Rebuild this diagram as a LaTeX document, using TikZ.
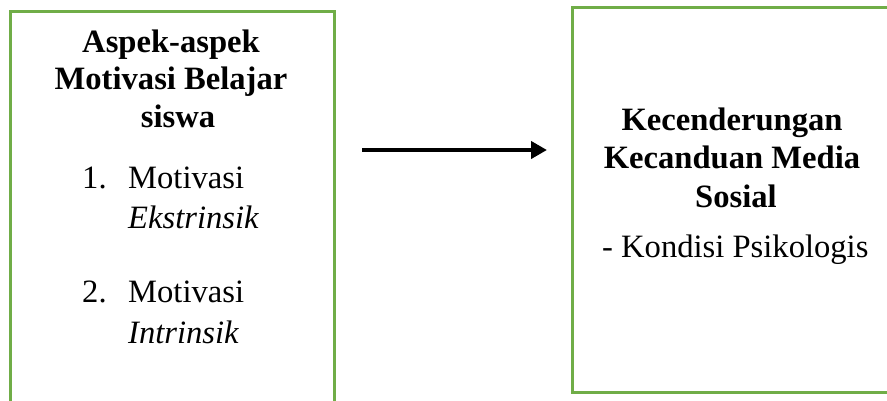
\documentclass[tikz,border=0pt]{standalone}
\usepackage{fontspec}
\setmainfont{Liberation Serif}
\usetikzlibrary{arrows.meta}
\definecolor{boxgreen}{HTML}{70AD47}
\tikzset{
  panel/.style={draw=boxgreen, line width=3pt},
  txt/.style={inner sep=0pt, anchor=base, font=\fontsize{32.6}{38}\selectfont},
  head/.style={txt, font=\fontsize{32.6}{38}\selectfont\bfseries},
  item/.style={txt, anchor=base west},
  flow/.style={line width=4pt, -{Triangle[length=16pt,width=17pt]}}
}
\begin{document}
\begin{tikzpicture}[x=1pt,y=-1pt]
\useasboundingbox (0,0) rectangle (887,400);
% boxes
\draw[panel] (10,11) rectangle (334,420);
\draw[panel] (572,7) rectangle (900,392);
% left box heading
\node[head] (l1) at (171,52) {Aspek-aspek};
\node[head] (l2) at (171,89) {Motivasi Belajar};
\node[head] (l3) at (178,127) {siswa};
% left box list
\node[item] (n1) at (82,188) {1.};
\node[item] (i1) at (128,188) {Motivasi};
\node[item] (i1b) at (128,228) {\itshape Ekstrinsik};
\node[item] (n2) at (82,302) {2.};
\node[item] (i2) at (128,302) {Motivasi};
\node[item] (i2b) at (128,343) {\itshape Intrinsik};
% right box heading
\node[head] (r1) at (732,130) {Kecenderungan};
\node[head] (r2) at (732,168) {Kecanduan Media};
\node[head] (r3) at (736,207) {Sosial};
\node[item] (r4) at (602,257) {- Kondisi Psikologis};
% connector
\coordinate (arrS) at (362,150);
\coordinate (arrE) at (547,150);
\draw[flow] (arrS) -- (arrE);
\end{tikzpicture}
\end{document}
